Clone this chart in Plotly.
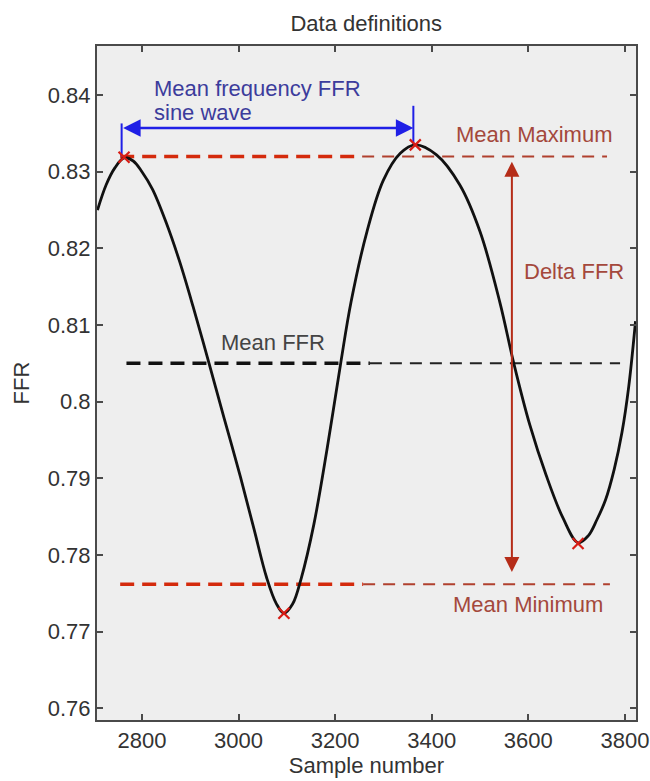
import plotly.graph_objects as go

# ---- data ----
sample = [2708, 2726, 2744, 2763, 2782, 2800, 2822, 2850, 2878, 2906, 2939, 2970, 3004, 3032, 3058,
          3078, 3094, 3112, 3130, 3156, 3183, 3211, 3233, 3266, 3300, 3335, 3366, 3410, 3458, 3500,
          3541, 3570, 3603, 3637, 3672, 3703, 3724, 3742, 3760, 3778, 3794, 3808, 3822]
ffr = [0.8250, 0.8283, 0.8305, 0.8318, 0.8314, 0.8300, 0.8277, 0.8234, 0.8183, 0.8124, 0.8050,
       0.7979, 0.7902, 0.7834, 0.7771, 0.7737, 0.7724, 0.7736, 0.7770, 0.7840, 0.7937, 0.8048,
       0.8130, 0.8222, 0.8289, 0.8324, 0.8335, 0.8322, 0.8283, 0.8222, 0.8130, 0.8050, 0.7970,
       0.7904, 0.7848, 0.7816, 0.7825, 0.7846, 0.7872, 0.7912, 0.7960, 0.8020, 0.8105]

extrema_x = [2763, 3094, 3366, 3703]
extrema_y = [0.8319, 0.7724, 0.8335, 0.7815]

mean_max = 0.8320
mean_ffr = 0.8050
mean_min = 0.7762

max_line_x = [2755, 3256, 3763]   # start, end of bold part, end
min_line_x = [2755, 3258, 3769]
ffr_line_x = [2768, 3272, 3790]

period_start = 2758
period_end = 3362
period_arrow_y = 0.8357
period_left_tick = [0.8363, 0.8320]
period_right_tick = [0.8386, 0.8333]

delta_x = 3566
delta_top = 0.8313
delta_bottom = 0.7776

x_ticks = [2800, 3000, 3200, 3400, 3600, 3800]
y_ticks = [0.76, 0.77, 0.78, 0.79, 0.80, 0.81, 0.82, 0.83, 0.84]
y_ticktext = ["0.76", "0.77", "0.78", "0.79", "0.8", "0.81", "0.82", "0.83", "0.84"]

FONT = "Liberation Sans, Arial, sans-serif"
RED_BOLD = "#d42a0c"
RED_THIN = "#b0402e"
TEXT_RED = "#a4483c"
BLUE = "#1f1fe6"
TEXT_BLUE = "#3c3c9c"

fig = go.Figure()

def hline(xs, y, bold_color, thin_color, bold_w, thin_w):
    fig.add_trace(go.Scatter(x=[xs[1], xs[2]], y=[y, y], mode="lines",
                             line=dict(color=thin_color, width=thin_w, dash="12px,8px"),
                             hoverinfo="skip", showlegend=False))
    fig.add_trace(go.Scatter(x=[xs[0], xs[1]], y=[y, y], mode="lines",
                             line=dict(color=bold_color, width=bold_w, dash="14px,8px"),
                             hoverinfo="skip", showlegend=False))

hline(ffr_line_x, mean_ffr, "#111111", "#222222", 3.5, 2)
hline(max_line_x, mean_max, RED_BOLD, RED_THIN, 3.5, 2)
hline(min_line_x, mean_min, RED_BOLD, RED_THIN, 3.5, 2)

# blue period ticks
fig.add_trace(go.Scatter(x=[period_start, period_start], y=period_left_tick, mode="lines",
                         line=dict(color=BLUE, width=2), hoverinfo="skip", showlegend=False))
fig.add_trace(go.Scatter(x=[period_end, period_end], y=period_right_tick, mode="lines",
                         line=dict(color=BLUE, width=2), hoverinfo="skip", showlegend=False))

# the FFR curve
fig.add_trace(go.Scatter(x=sample, y=ffr, mode="lines",
                         line=dict(color="#111111", width=2.8, shape="spline", smoothing=1.0),
                         showlegend=False))

# extrema markers
fig.add_trace(go.Scatter(x=extrema_x, y=extrema_y, mode="markers",
                         marker=dict(symbol="x-thin", size=11, line=dict(color="#d81c14", width=2.2)),
                         showlegend=False))

# double arrows
fig.add_annotation(x=period_end, y=period_arrow_y, ax=period_start, ay=period_arrow_y,
                   xref="x", yref="y", axref="x", ayref="y", text="", showarrow=True,
                   arrowhead=2, startarrowhead=2, arrowside="end+start", arrowsize=1.4, startarrowsize=1.4,
                   arrowwidth=2.5, arrowcolor=BLUE)
fig.add_annotation(x=delta_x, y=delta_top, ax=delta_x, ay=delta_bottom,
                   xref="x", yref="y", axref="x", ayref="y", text="", showarrow=True,
                   arrowhead=2, startarrowhead=2, arrowside="end+start", arrowsize=1.5, startarrowsize=1.5,
                   arrowwidth=2, arrowcolor="#b52c18")

def label(txt, x, y, color):
    fig.add_annotation(x=x, y=y, xref="x", yref="y", text=txt, showarrow=False,
                       xanchor="left", yanchor="middle",
                       font=dict(family=FONT, size=22, color=color))

label("Mean frequency FFR", 2821, 0.8409, TEXT_BLUE)
label("sine wave", 2821, 0.8377, TEXT_BLUE)
label("Mean Maximum", 3446, 0.8348, TEXT_RED)
label("Delta FFR", 3587, 0.8170, TEXT_RED)
label("Mean Minimum", 3439, 0.7735, TEXT_RED)
label("Mean FFR", 2960, 0.8077, "#444444")

axis_common = dict(showline=True, linecolor="#4a4a4a", linewidth=2, mirror="ticks",
                   ticks="inside", ticklen=6, tickwidth=1.5, tickcolor="#4a4a4a",
                   showgrid=False, zeroline=False, automargin=False,
                   tickfont=dict(family=FONT, size=22, color="#333333"))

fig.update_layout(
    width=650, height=781,
    margin=dict(l=97, r=14, t=46, b=61),
    paper_bgcolor="white", plot_bgcolor="#eeeeee",
    template="none",
    title=dict(text="Data definitions", x=0.5635, xanchor="center", y=1 - 23 / 781, yanchor="middle",
               yref="container", font=dict(family=FONT, size=22, color="#333333")),
    xaxis=dict(range=[2707, 3823], tickvals=x_ticks,
               title=dict(text="Sample number", standoff=4, font=dict(family=FONT, size=22, color="#333333")),
               **axis_common),
    yaxis=dict(range=[0.75848, 0.8464], tickvals=y_ticks, ticktext=y_ticktext,
               title=dict(text="FFR", standoff=12, font=dict(family=FONT, size=22, color="#333333")),
               **axis_common),
    showlegend=False,
)

fig.write_html("out.html")
